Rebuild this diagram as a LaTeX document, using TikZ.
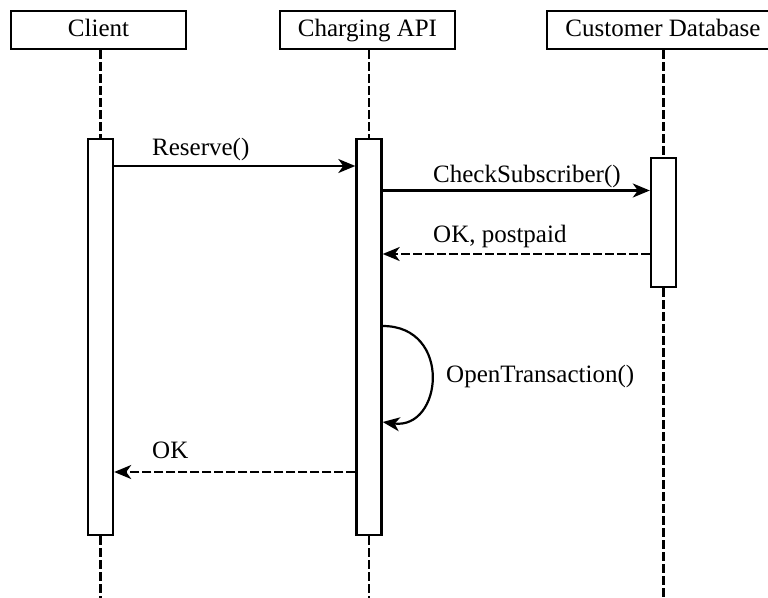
\documentclass[tikz,border=0pt]{standalone}
\usepackage{fontspec}
\setmainfont{Liberation Serif}
\usetikzlibrary{arrows.meta}
\begin{document}
\begin{tikzpicture}[x=1pt,y=1pt,
  font=\fontsize{25}{28}\selectfont,
  header/.style={draw, line width=2.5pt, fill=white, minimum width=175pt, minimum height=38pt, inner xsep=13pt, inner ysep=0pt, text height=17pt, text depth=5pt},
  act/.style={draw, line width=2.4pt, fill=white, minimum width=25pt, inner sep=0pt},
  life/.style={line width=2.3pt, dash pattern=on 9pt off 3pt},
  msg/.style={line width=2.2pt, -{Stealth[length=17pt,width=14pt,inset=5pt]}},
  ret/.style={msg, dash pattern=on 9pt off 3pt},
  lbl/.style={inner sep=0pt, anchor=base west}]
\clip (0,0) rectangle (768,-597);
\useasboundingbox (0,0) rectangle (768,-597);
% headers
\node[header] (hC) at (98.5,-30) {Client};
\node[header] (hA) at (367.5,-30) {Charging API};
\node[header, minimum width=232pt] (hD) at (663,-30) {Customer Database};
% activation boxes
\node[act, minimum height=396pt] (aC) at (100.5,-337) {};
\node[act, minimum height=396pt] (aA) at (369,-337) {};
\node[act, minimum height=129pt] (aD) at (663.5,-222.5) {};
% bottom coordinates
\coordinate (bC) at (100.5,-600);
\coordinate (bA) at (369,-600);
\coordinate (bD) at (663.5,-600);
% lifelines
\draw[life] (hC.south -| aC) -- (aC.north);
\draw[life] (aC.south) -- (bC);
\draw[life] (hA.south -| aA) -- (aA.north);
\draw[life] (aA.south) -- (bA);
\draw[life] (hD.south -| aD) -- (aD.north);
\draw[life] (aD.south) -- (bD);
% message levels
\coordinate (m1) at (0,-166);
\coordinate (m2) at (0,-190.5);
\coordinate (m3) at (0,-254);
\coordinate (m4) at (0,-472);
% messages
\draw[msg] (aC.east |- m1) -- (aA.west |- m1);
\node[lbl] (l1) at (152,-155) {Reserve()};
\draw[msg] (aA.east |- m2) -- (aD.west |- m2);
\node[lbl] (l2) at (433,-182) {CheckSubscriber()};
\draw[ret] (aD.west |- m3) -- (aA.east |- m3);
\node[lbl] (l3) at (433,-242) {OK, postpaid};
\coordinate (s1) at (0,-326);
\coordinate (s2) at (0,-422);
\draw[msg] (aA.east |- s1) .. controls ++(70,0) and ++(60,-8) .. (aA.east |- s2);
\node[lbl] (l4) at (446,-382) {OpenTransaction()};
\draw[ret] (aA.west |- m4) -- (aC.east |- m4);
\node[lbl] (l5) at (152,-458) {OK};
\end{tikzpicture}
\end{document}
